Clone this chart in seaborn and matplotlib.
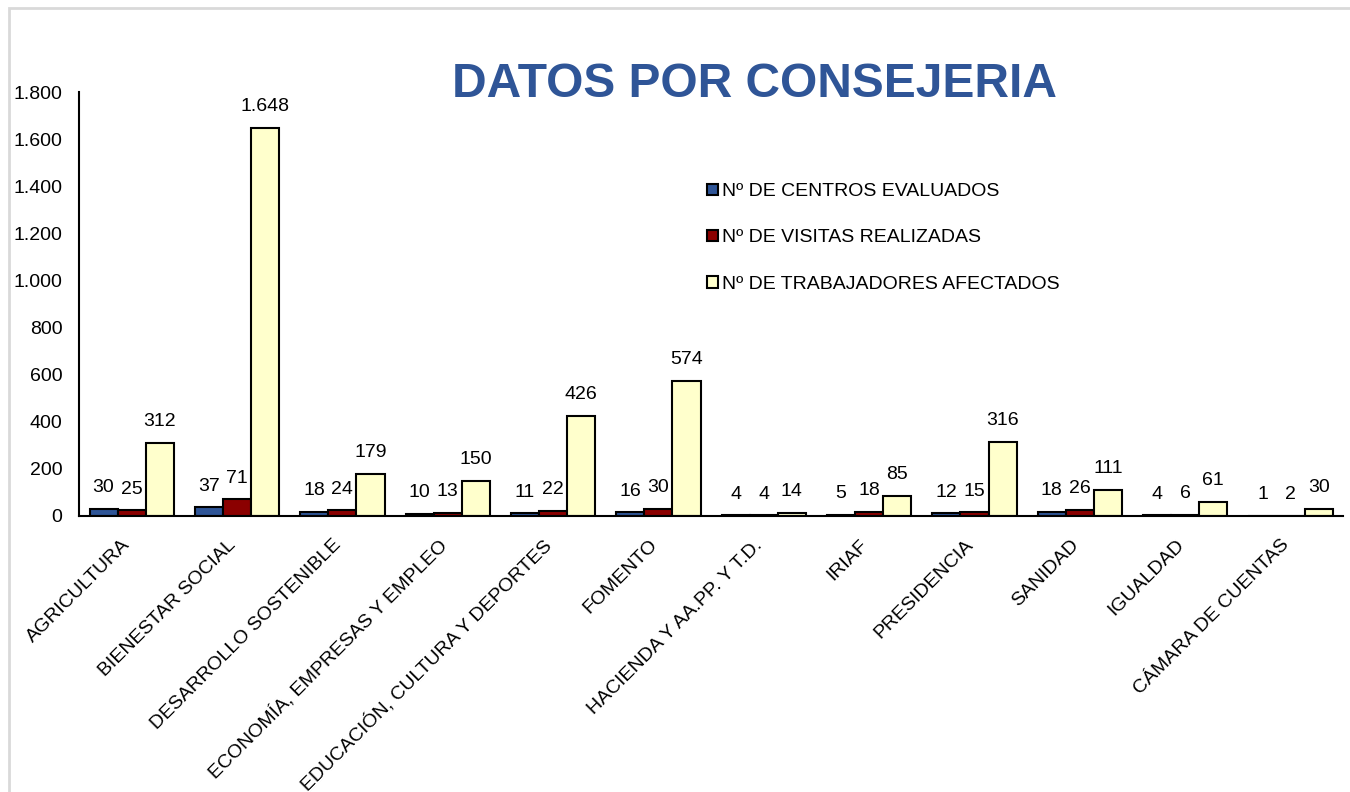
import pandas as pd
import seaborn as sns
import matplotlib.pyplot as plt
from matplotlib.patches import Rectangle
from matplotlib.ticker import FuncFormatter
from matplotlib.transforms import ScaledTranslation

consejerias = ["AGRICULTURA", "BIENESTAR SOCIAL", "DESARROLLO SOSTENIBLE",
               "ECONOMÍA, EMPRESAS Y EMPLEO", "EDUCACIÓN, CULTURA Y DEPORTES",
               "FOMENTO", "HACIENDA Y AA.PP. Y T.D.", "IRIAF", "PRESIDENCIA",
               "SANIDAD", "IGUALDAD", "CÁMARA DE CUENTAS"]
centros = [30, 37, 18, 10, 11, 16, 4, 5, 12, 18, 4, 1]
visitas = [25, 71, 24, 13, 22, 30, 4, 18, 15, 26, 6, 2]
trabajadores = [312, 1648, 179, 150, 426, 574, 14, 85, 316, 111, 61, 30]
series = ["Nº DE CENTROS EVALUADOS", "Nº DE VISITAS REALIZADAS", "Nº DE TRABAJADORES AFECTADOS"]
colores = ["#2F5597", "#8B0000", "#FFFFCC"]

df = pd.DataFrame({
    "consejeria": consejerias * 3,
    "serie": [series[0]] * 12 + [series[1]] * 12 + [series[2]] * 12,
    "valor": centros + visitas + trabajadores,
})

sns.set_style("white")
plt.rcParams['font.family'] = ['Liberation Sans', 'DejaVu Sans']
plt.rcParams['text.color'] = 'black'
plt.rcParams['xtick.color'] = 'black'
plt.rcParams['ytick.color'] = 'black'

fig = plt.figure(figsize=(13.5, 7.92), dpi=100)
ax = fig.add_axes([0.0585, 0.3485, 0.9365, 0.5353])

sns.barplot(data=df, x="consejeria", y="valor", hue="serie", palette=colores,
            width=0.8, edgecolor="black", linewidth=1.5, ax=ax, saturation=1)


def miles(v):
    return f"{int(v):,}".replace(",", ".")


for cont in ax.containers:
    ax.bar_label(cont, labels=[miles(v) for v in cont.datavalues],
                 padding=9, fontsize=14, color="black")

ax.set_ylim(0, 1800)
ax.set_yticks(range(0, 1801, 200))
ax.yaxis.set_major_formatter(FuncFormatter(lambda v, p: miles(v)))
ax.tick_params(axis="y", labelsize=14, length=0, pad=12)
ax.tick_params(axis="x", labelsize=14, length=0, pad=6)
# etiquetas giradas como en excel
off = ScaledTranslation(-10 / 100, -12 / 100, fig.dpi_scale_trans)
for lab in ax.get_xticklabels():
    lab.set_rotation(45)
    lab.set_ha("right")
    lab.set_rotation_mode("anchor")
    lab.set_transform(lab.get_transform() + off)
ax.set_xlabel("")
ax.set_ylabel("")
sns.despine(ax=ax, top=True, right=True)
for s in ["left", "bottom"]:
    ax.spines[s].set_color("black")
    ax.spines[s].set_linewidth(1.5)

ax.legend(loc="upper left", bbox_to_anchor=(0.483, 0.826), frameon=False, fontsize=14,
          labelspacing=1.5, handlelength=0.55, handleheight=0.55, handletextpad=0.2)

fig.text(0.559, 0.893, "DATOS POR CONSEJERIA", ha="center", va="center",
         fontsize=34.5, fontweight="bold", color="#2F5597")

fig.patches.append(Rectangle((0.0065, -0.01), 1.0, 1.0, transform=fig.transFigure,
                             fill=False, edgecolor="#D9D9D9", linewidth=2))

fig.savefig("out.png", dpi=100)
